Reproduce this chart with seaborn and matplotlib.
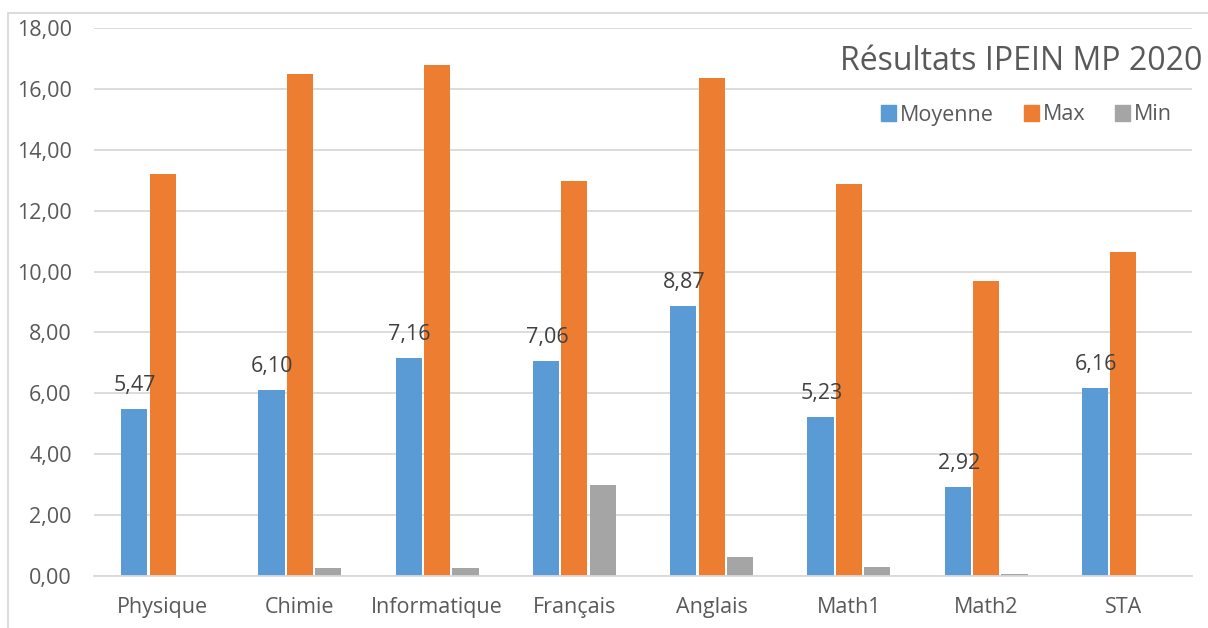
import pandas as pd
import numpy as np
import seaborn as sns
import matplotlib.pyplot as plt
from matplotlib.ticker import FuncFormatter, MultipleLocator
from matplotlib.patches import Rectangle

# Values
matieres = ['Physique', 'Chimie', 'Informatique', 'Français', 'Anglais', 'Math1', 'Math2', 'STA']
moyenne = [5.47, 6.10, 7.16, 7.06, 8.87, 5.23, 2.92, 6.16]
maxi = [13.21, 16.49, 16.79, 12.98, 16.36, 12.88, 9.69, 10.64]
mini = [0.0, 0.25, 0.27, 3.00, 0.62, 0.30, 0.05, 0.0]

series = ['Moyenne', 'Max', 'Min']
colors = ['#5B9BD5', '#ED7D31', '#A5A5A5']
text_color = '#595959'
label_color = '#404040'
grid_color = '#D9D9D9'

df = pd.DataFrame({'Matière': matieres, 'Moyenne': moyenne, 'Max': maxi, 'Min': mini})
long_df = df.melt(id_vars='Matière', var_name='Série', value_name='Note')

sns.set_style('white')
plt.rcParams['font.family'] = ['Open Sans', 'DejaVu Sans']

fig = plt.figure(figsize=(12.08, 6.28), dpi=100)
ax = fig.add_axes([94 / 1208, 1 - 576 / 628, (1192 - 94) / 1208, (576 - 28) / 628])

sns.barplot(data=long_df, x='Matière', y='Note', hue='Série', hue_order=series,
            palette=colors, width=0.62, gap=0.08, ax=ax, legend=False,
            saturation=1, edgecolor='none')

ax.set_ylim(0, 18)
ax.set_xlim(-0.5, len(matieres) - 0.5)
ax.yaxis.set_major_locator(MultipleLocator(2))
ax.yaxis.set_major_formatter(FuncFormatter(lambda v, p: f'{v:.2f}'.replace('.', ',')))
ax.grid(axis='y', color=grid_color, lw=1.3)
ax.set_axisbelow(True)
for s in ['top', 'right', 'left']:
    ax.spines[s].set_visible(False)
ax.spines['bottom'].set_color(grid_color)
ax.spines['bottom'].set_linewidth(1.3)
ax.tick_params(axis='both', length=0, labelsize=15.5, colors=text_color)
ax.tick_params(axis='y', pad=16)
ax.tick_params(axis='x', pad=15)
ax.set_xlabel('')
ax.set_ylabel('')

# data labels on the Moyenne bars
for i, v in enumerate(moyenne):
    ax.annotate(f'{v:.2f}'.replace('.', ','), (i - 0.2, v), xytext=(0, 13),
                textcoords='offset points', ha='center', va='baseline',
                fontsize=15.5, color=label_color)

# legend
handles = [Rectangle((0, 0), 1, 1, color=c) for c in colors]
fig.legend(handles, series, loc='center left', bbox_to_anchor=(862 / 1208, 1 - 115 / 628),
           ncol=3, frameon=False, fontsize=15.5, labelcolor=text_color,
           handlelength=0.7, handleheight=0.7, handletextpad=0.16, columnspacing=1.4)

fig.text(840 / 1208, 1 - 61 / 628, 'Résultats IPEIN MP 2020', fontsize=23,
         color=text_color, ha='left', va='center')

# chart frame (cropped at right and bottom)
fig.patches.append(Rectangle((8 / 1208, -0.1), 1.2, 1 - 13 / 628 + 0.1, transform=fig.transFigure,
                             fill=False, edgecolor=grid_color, lw=1.3))

fig.savefig('out.png', dpi=100)
